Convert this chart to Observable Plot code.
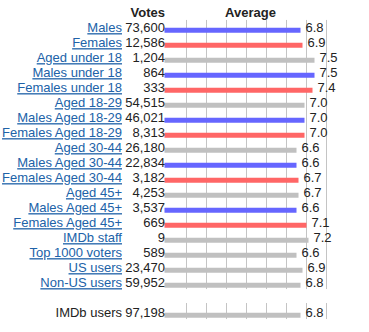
<!DOCTYPE html>
<html>
<head>
<meta charset="utf-8">
<script src="https://cdn.jsdelivr.net/npm/d3@7"></script>
<script src="https://cdn.jsdelivr.net/npm/@observablehq/plot@0.6"></script>
<style>
  html, body { margin: 0; padding: 0; background: #fff; }
  g[fill="#2062a8"] text { text-decoration: underline; }
</style>
</head>
<body>
<div id="chart"></div>
<script>
const labels = ["Males", "Females", "Aged under 18", "Males under 18", "Females under 18",
  "Aged 18-29", "Males Aged 18-29", "Females Aged 18-29", "Aged 30-44", "Males Aged 30-44",
  "Females Aged 30-44", "Aged 45+", "Males Aged 45+", "Females Aged 45+", "IMDb staff",
  "Top 1000 voters", "US users", "Non-US users", "IMDb users"];
const votes = [73600, 12586, 1204, 864, 333, 54515, 46021, 8313, 26180, 22834, 3182, 4253,
  3537, 669, 9, 589, 23470, 59952, 97198];
const averages = [6.8, 6.9, 7.5, 7.5, 7.4, 7.0, 7.0, 7.0, 6.6, 6.6, 6.7, 6.7, 6.6, 7.1,
  7.2, 6.6, 6.9, 6.8, 6.8];
const groups = ["male", "female", "all", "male", "female", "all", "male", "female", "all",
  "male", "female", "all", "male", "female", "all", "all", "all", "all", "all"];
const gridTicks = [1, 2, 3, 4, 5, 6, 7, 8];
const headers = ["Votes", "Average"];

const n = labels.length;
const rows = labels.map((label, i) => ({
  label, votes: votes[i], avg: averages[i], group: groups[i],
  row: i < n - 1 ? i : i + 1, link: i < n - 1
}));
const lastMain = n - 2;
const totalRow = n;

const font = "Liberation Sans, Arial, Helvetica, sans-serif";
const ink = "#222";
const linkColor = "#2062a8";

const chart = Plot.plot({
  width: 369,
  height: 332,
  margin: 0,
  style: { fontFamily: font, fontSize: "13px", background: "#fff" },
  x: { type: "linear", domain: [0, 8], range: [165, 325], axis: null },
  y: { type: "linear", domain: [0, 19], range: [29.7, 314.7], axis: null },
  color: { domain: ["male", "female", "all"], range: ["#6666ff", "#ff6666", "#c0c0c0"] },
  marks: [
    Plot.ruleX(gridTicks, { x: d => d, y1: -0.65, y2: lastMain + 0.29, stroke: "#c4c4c4", strokeOpacity: 1, dx: 1 }),
    Plot.ruleX(gridTicks, { x: d => d, y1: totalRow - 0.78, y2: totalRow + 0.29, stroke: "#c4c4c4", strokeOpacity: 1, dx: 1 }),
    Plot.ruleY(rows, { x1: 0, x2: "avg", y: "row", stroke: "group", strokeWidth: 5, dx: -0.5 }),
    Plot.text(rows, { x: "avg", y: "row", text: d => d3.format(".1f")(d.avg), textAnchor: "start", dx: 4, dy: -2.2, fill: ink, fontSize: 13 }),
    Plot.text(rows.filter(d => d.link), { x: 0, y: "row", text: "label", textAnchor: "end", dx: -43.5, dy: -2.2, fill: linkColor, fontSize: 13 }),
    Plot.text(rows.filter(d => !d.link), { x: 0, y: "row", text: "label", textAnchor: "end", dx: -43.5, dy: -2.2, fill: ink, fontSize: 13 }),
    Plot.text(rows, { x: 0, y: "row", text: d => d3.format(",")(d.votes), textAnchor: "end", dx: -0.5, dy: -2.2, fill: ink, fontSize: 13 }),
    Plot.text([headers[0]], { x: 0, frameAnchor: "top", lineAnchor: "middle", text: d => d, textAnchor: "end", dx: -0.5, dy: 12, fontWeight: "bold", fill: ink, fontSize: 13 }),
    Plot.text([headers[1]], { x: 4.25, frameAnchor: "top", lineAnchor: "middle", text: d => d, textAnchor: "middle", dy: 12, fontWeight: "bold", fill: ink, fontSize: 13 })
  ]
});
d3.select(chart).selectAll(`g[fill="${linkColor}"] text`).style("text-decoration", "underline");
document.getElementById("chart").appendChild(chart);
</script>
</body>
</html>
